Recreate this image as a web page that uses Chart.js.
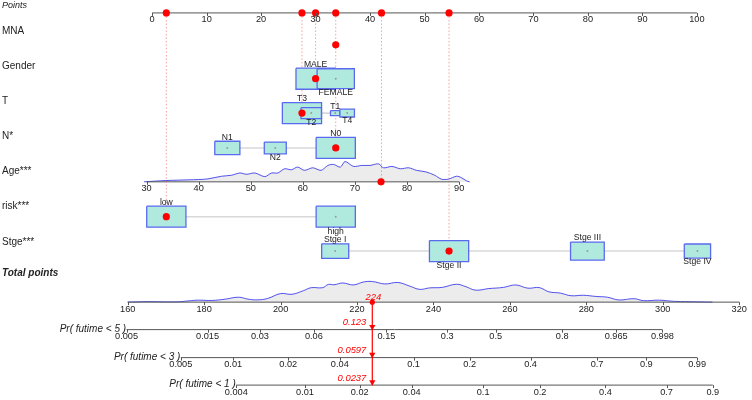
<!DOCTYPE html>
<html><head><meta charset="utf-8">
<script src="https://cdn.jsdelivr.net/npm/chart.js@4.4.1/dist/chart.umd.min.js"></script>
<style>html,body{margin:0;padding:0;background:#fff}#wrap{width:752px;height:400px;position:relative}</style>
</head><body><div id="wrap"><canvas id="c"></canvas></div>
<script>
// ================= DATA =================
const rowLabels = ["MNA", "Gender", "T", "N*", "Age***", "risk***", "Stge***"];
const pointsTicks = [0, 10, 20, 30, 40, 50, 60, 70, 80, 90, 100];

const genderLevels = ["MALE", "FEMALE"];
const genderPoints = [30.0, 33.7];
const genderFreq   = [1.0, 0.95];

const tLevels = ["T3", "T2", "T1", "T4"];
const tPoints = [27.5, 29.2, 33.6, 35.8];
const tFreq   = [1.0, 0.52, 0.24, 0.37];

const nLevels = ["N1", "N2", "N0"];
const nPoints = [13.8, 22.6, 33.7];
const nFreq   = [0.64, 0.56, 1.0];

const riskLevels = ["low", "high"];
const riskPoints = [2.6, 33.7];
const riskFreq   = [1.0, 1.0];

const stageLevels = ["Stge I", "Stge II", "Stge III", "Stge IV"];
const stagePoints = [33.6, 54.5, 79.9, 100.1];
const stageFreq   = [0.69, 1.0, 0.86, 0.67];

const ageTicks = [30, 40, 50, 60, 70, 80, 90];
const ageDensX = [29.5, 33.6, 36, 38, 40, 41.8, 44.4, 46.3, 47.9, 49.2, 50.8, 52.7, 54, 55.2, 56.5, 57.8, 59, 60.3, 61.9, 63.5, 64.8, 65.9, 67.2, 68.1, 69.7, 71.3, 72.9, 74.5, 75.5, 77.1, 78.7, 80.3, 81.8, 83.7, 85.3, 86.6, 87.9, 89.5, 90.4, 91.4, 92];
const ageDensY = [0, 1.3, 1.7, 2.0, 2.3, 3, 5.7, 6.7, 9, 7.7, 9, 5.3, 9, 9, 13.3, 12.3, 15, 11.7, 14.3, 11.7, 16.7, 17.7, 15, 20.7, 15.7, 16.7, 16.7, 18.3, 14.3, 15.7, 13.3, 14.3, 11.7, 10, 6.7, 2.7, 2.7, 5.7, 4.3, 1, 0];

const totalTicks = [160, 180, 200, 220, 240, 260, 280, 300, 320];
const totDensX = [160, 165, 173, 176, 178.5, 182, 185.5, 189, 191.5, 194, 196.6, 200, 203, 206, 208, 211, 212.5, 214, 216.3, 219, 221.7, 224, 227.3, 230.7, 233.8, 236.4, 239, 242.3, 246, 248.5, 251, 254.5, 258.3, 261.5, 264.7, 267.7, 270.2, 273.2, 276, 279.2, 282.5, 285.5, 288.5, 292.5, 295, 299, 303, 309, 313];
const totDensY = [0, 0.5, 0.3, 1.3, 2, 1.7, 3, 5, 3, 2.3, 3.7, 8.7, 8, 11.7, 14.7, 14.7, 18, 17.7, 19.5, 17.5, 20.5, 21, 18.5, 20, 16.3, 13, 14.5, 15, 18.2, 15.7, 12.2, 13.8, 15, 17.5, 14.2, 14.8, 10.5, 9.2, 6.5, 7, 5.8, 5, 2.2, 3.5, 1.5, 2, 0.8, 0.3, 0];

const prob5Labels = ["0.005", "0.015", "0.03", "0.06", "0.15", "0.3", "0.5", "0.8", "0.965", "0.998"];
const prob5At     = [159.7, 180.9, 194.6, 208.7, 227.7, 243.6, 256.3, 273.7, 287.8, 299.9];
const prob3Labels = ["0.005", "0.01", "0.02", "0.04", "0.1", "0.2", "0.4", "0.7", "0.9", "0.99"];
const prob3At     = [173.9, 187.6, 202.0, 215.5, 234.8, 249.5, 265.4, 282.8, 295.7, 309.0];
const prob1Labels = ["0.004", "0.01", "0.02", "0.04", "0.1", "0.2", "0.4", "0.7", "0.9"];
const prob1At     = [188.4, 206.4, 220.7, 234.3, 253.0, 267.9, 285.0, 301.0, 313.1];

// selected case
const selMNA = 33.7, selGender = 30.0, selT = 27.5, selN = 33.7;
const selAge = 75, selAgePoints = 42.1, selRisk = 2.6, selStage = 54.5;
const selTotal = 224;
const selProbs = ["0.123", "0.0597", "0.0237"];

// ================= LAYOUT =================
const W = 752, H = 400;
const ROW = {points: 9.5, mna: 42, gender: 76.5, t: 111.5, n: 147, age: 181.5, risk: 217, stage: 252,
             total: 304, p5: 332, p3: 360.5, p1: 388.5};
const LABEL_Y = [31, 66, 101, 136.7, 171, 206.7, 242];
const X_PTS = {v0: 0, p0: 150, v1: 100, p1: 700};
const X_AGE = {v0: 30, p0: 144.3, v1: 90, p1: 460};
const X_TOT = {v0: 160, p0: 125.3, v1: 320, p1: 742.7};
function pxRange(a){const k=(a.p1-a.p0)/(a.v1-a.v0);return {min:a.v0-a.p0/k,max:a.v0+(W-a.p0)/k,k:k};}
const RP = pxRange(X_PTS), RA = pxRange(X_AGE), RT = pxRange(X_TOT);
const BOX_W_PX = 39.6, BOX_H_PX = 21.4;
const FONT = '"Liberation Sans", Arial, sans-serif';
const AXC = '#555555', TXT = '#222222', RED = '#ff0000';
const BOX_FILL = '#b0eadf', BOX_LINE = '#5a6aee';

// ================= DATASETS =================
const datasets = []; let z = 0;
function add(ds){
  datasets.push(Object.assign({showLine: true, pointRadius: 0, pointHoverRadius: 0, borderWidth: 1,
    fill: false, tension: 0, yAxisID: 'y', xAxisID: 'xp'}, ds, {order: 1000 - (z++)}));
}
const xy = (xs, ys) => xs.map((x, i) => ({x: x, y: ys[i]}));

// densities
add({xAxisID: 'xa', data: ageDensX.map((a, i) => ({x: a, y: ROW.age - ageDensY[i]})),
     fill: {value: ROW.age}, backgroundColor: '#ececec', borderColor: 'rgba(40,40,235,0.8)', tension: 0.3});
add({xAxisID: 'xt', data: totDensX.map((a, i) => ({x: a, y: ROW.total - totDensY[i]})),
     fill: {value: ROW.total}, backgroundColor: '#ececec', borderColor: 'rgba(40,40,235,0.8)', tension: 0.4});

// axis lines
add({xAxisID: 'xp', data: [{x: pointsTicks[0], y: ROW.points}, {x: pointsTicks[pointsTicks.length-1], y: ROW.points}], borderColor: AXC});
add({xAxisID: 'xa', data: [{x: ageTicks[0], y: ROW.age}, {x: ageTicks[ageTicks.length-1], y: ROW.age}], borderColor: AXC});
add({xAxisID: 'xt', data: [{x: totalTicks[0], y: ROW.total}, {x: totalTicks[totalTicks.length-1], y: ROW.total}], borderColor: AXC});
const probAxes = [
  {name: 'Pr( futime < 5 )', row: ROW.p5, labels: prob5Labels, at: prob5At, val: selProbs[0]},
  {name: 'Pr( futime < 3 )', row: ROW.p3, labels: prob3Labels, at: prob3At, val: selProbs[1]},
  {name: 'Pr( futime < 1 )', row: ROW.p1, labels: prob1Labels, at: prob1At, val: selProbs[2]}
];
probAxes.forEach(p => add({xAxisID: 'xt', data: [{x: p.at[0], y: p.row}, {x: p.at[p.at.length-1], y: p.row}], borderColor: AXC}));

// dotted guide lines
const guides = [[selRisk, ROW.risk], [selT, ROW.t], [selGender, ROW.gender], [selN, ROW.n], [selAgePoints, ROW.age], [selStage, ROW.stage]];
guides.forEach(g => add({data: [{x: g[0], y: ROW.points}, {x: g[0], y: g[1]}], borderColor: 'rgba(235,70,70,0.5)', borderDash: [1.5, 2]}));

// factor rows
const factorRows = [
  {row: ROW.gender, levels: genderLevels, pts: genderPoints, freq: genderFreq},
  {row: ROW.t, levels: tLevels, pts: tPoints, freq: tFreq},
  {row: ROW.n, levels: nLevels, pts: nPoints, freq: nFreq},
  {row: ROW.risk, levels: riskLevels, pts: riskPoints, freq: riskFreq},
  {row: ROW.stage, levels: stageLevels, pts: stagePoints, freq: stageFreq}
];
factorRows.forEach(fr => {
  add({data: [{x: Math.min(...fr.pts), y: fr.row}, {x: Math.max(...fr.pts), y: fr.row}], borderColor: '#d8d8d8', borderWidth: 1.6});
});
factorRows.forEach(fr => {
  fr.pts.forEach((p, i) => {
    const hw = fr.freq[i] * BOX_W_PX / 2 / RP.k, hh = fr.freq[i] * BOX_H_PX / 2;
    add({data: [{x: p-hw, y: fr.row-hh}, {x: p+hw, y: fr.row-hh}, {x: p+hw, y: fr.row+hh}, {x: p-hw, y: fr.row+hh}, {x: p-hw, y: fr.row-hh}],
         fill: 'shape', backgroundColor: BOX_FILL, borderColor: BOX_LINE, borderWidth: 1.3});
    add({data: [{x: p, y: fr.row}], showLine: false, pointRadius: 1, backgroundColor: '#9a9a9a', borderWidth: 0});
  });
});

// red markers
add({data: [{x: selRisk, y: ROW.points}, {x: selT, y: ROW.points}, {x: selGender, y: ROW.points}, {x: selN, y: ROW.points}, {x: selAgePoints, y: ROW.points}, {x: selStage, y: ROW.points},
            {x: selMNA, y: ROW.mna}, {x: selGender, y: ROW.gender}, {x: selT, y: ROW.t}, {x: selN, y: ROW.n}, {x: selRisk, y: ROW.risk}, {x: selStage, y: ROW.stage}],
     showLine: false, pointRadius: 3.6, backgroundColor: RED, borderWidth: 0});
add({xAxisID: 'xa', data: [{x: selAge, y: ROW.age}], showLine: false, pointRadius: 3.6, backgroundColor: RED, borderWidth: 0});
add({xAxisID: 'xt', data: [{x: selTotal, y: ROW.total}, {x: selTotal, y: ROW.p1}], borderColor: RED, borderWidth: 1.2});
add({xAxisID: 'xt', data: [{x: selTotal, y: ROW.total}], showLine: false, pointRadius: 2.6, backgroundColor: RED, borderWidth: 0});
add({xAxisID: 'xt', data: probAxes.map(p => ({x: selTotal, y: p.row - 3})), showLine: false, pointStyle: 'triangle', rotation: 180,
     pointRadius: 3.6, backgroundColor: RED, borderWidth: 0});

// ================= TEXT / TICKS PLUGIN =================
const textPlugin = {
  id: 'nomoText',
  afterDatasetsDraw(chart){
    const ctx = chart.ctx, sp = chart.scales.xp, sa = chart.scales.xa, st = chart.scales.xt, sy = chart.scales.y;
    ctx.save();
    ctx.textBaseline = 'middle';
    function ticks(scale, row, vals, labels){
      const y0 = sy.getPixelForValue(row);
      ctx.strokeStyle = AXC; ctx.lineWidth = 1;
      ctx.font = '9.2px ' + FONT; ctx.fillStyle = TXT; ctx.textAlign = 'center';
      vals.forEach((v, i) => {
        const x = scale.getPixelForValue(v);
        ctx.beginPath(); ctx.moveTo(Math.round(x)+0.5, y0); ctx.lineTo(Math.round(x)+0.5, y0+3); ctx.stroke();
        ctx.fillText(labels[i], x, y0 + 7);
      });
    }
    ticks(sp, ROW.points, pointsTicks, pointsTicks.map(String));
    ticks(sa, ROW.age, ageTicks, ageTicks.map(String));
    ticks(st, ROW.total, totalTicks, totalTicks.map(String));
    probAxes.forEach(p => ticks(st, p.row, p.at, p.labels));

    // left labels
    ctx.textAlign = 'left'; ctx.fillStyle = TXT;
    ctx.font = 'italic 9px ' + FONT; ctx.fillText('Points', 2, 5);
    ctx.font = '10px ' + FONT;
    rowLabels.forEach((l, i) => ctx.fillText(l, 2, LABEL_Y[i]));
    ctx.font = 'bold italic 10px ' + FONT; ctx.fillText('Total points', 2, 273.5);

    // probability axis names
    ctx.font = 'italic 10px ' + FONT; ctx.textAlign = 'right';
    probAxes.forEach(p => ctx.fillText(p.name, st.getPixelForValue(p.at[0]) - 0.5, sy.getPixelForValue(p.row) - 0.5));

    // level labels
    ctx.font = '8.6px ' + FONT; ctx.textAlign = 'center'; ctx.fillStyle = TXT;
    factorRows.forEach(fr => {
      const idx = fr.pts.map((p, i) => i).sort((a, b) => fr.pts[a] - fr.pts[b]);
      idx.forEach((i, k) => {
        const hh = fr.freq[i] * BOX_H_PX / 2;
        const x = sp.getPixelForValue(fr.pts[i]);
        const y = k % 2 === 0 ? sy.getPixelForValue(fr.row - hh) - 4 : sy.getPixelForValue(fr.row + hh) + 4;
        ctx.fillText(fr.levels[i], x, y);
      });
    });

    // red values
    ctx.fillStyle = RED; ctx.font = 'italic 9.4px ' + FONT;
    const xr = st.getPixelForValue(selTotal);
    ctx.textAlign = 'center'; ctx.fillText(String(selTotal), xr + 1, sy.getPixelForValue(ROW.total) - 5);
    ctx.textAlign = 'right';
    probAxes.forEach(p => ctx.fillText(p.val, xr - 6, sy.getPixelForValue(p.row) - 7));
    ctx.restore();
  }
};

new Chart(document.getElementById('c'), {
  type: 'line',
  data: {datasets: datasets},
  options: {
    responsive: true, maintainAspectRatio: false, animation: false, devicePixelRatio: 1,
    events: [],
    layout: {padding: 0},
    parsing: true,
    plugins: {legend: {display: false}, tooltip: {enabled: false}, title: {display: false}},
    scales: {
      xp: {type: 'linear', axis: 'x', display: false, bounds: 'data', min: RP.min, max: RP.max},
      xa: {type: 'linear', axis: 'x', display: false, bounds: 'data', min: RA.min, max: RA.max},
      xt: {type: 'linear', axis: 'x', display: false, bounds: 'data', min: RT.min, max: RT.max},
      y:  {type: 'linear', axis: 'y', display: false, bounds: 'data', min: 0, max: H, reverse: true}
    }
  },
  plugins: [textPlugin]
});
</script></body></html>
